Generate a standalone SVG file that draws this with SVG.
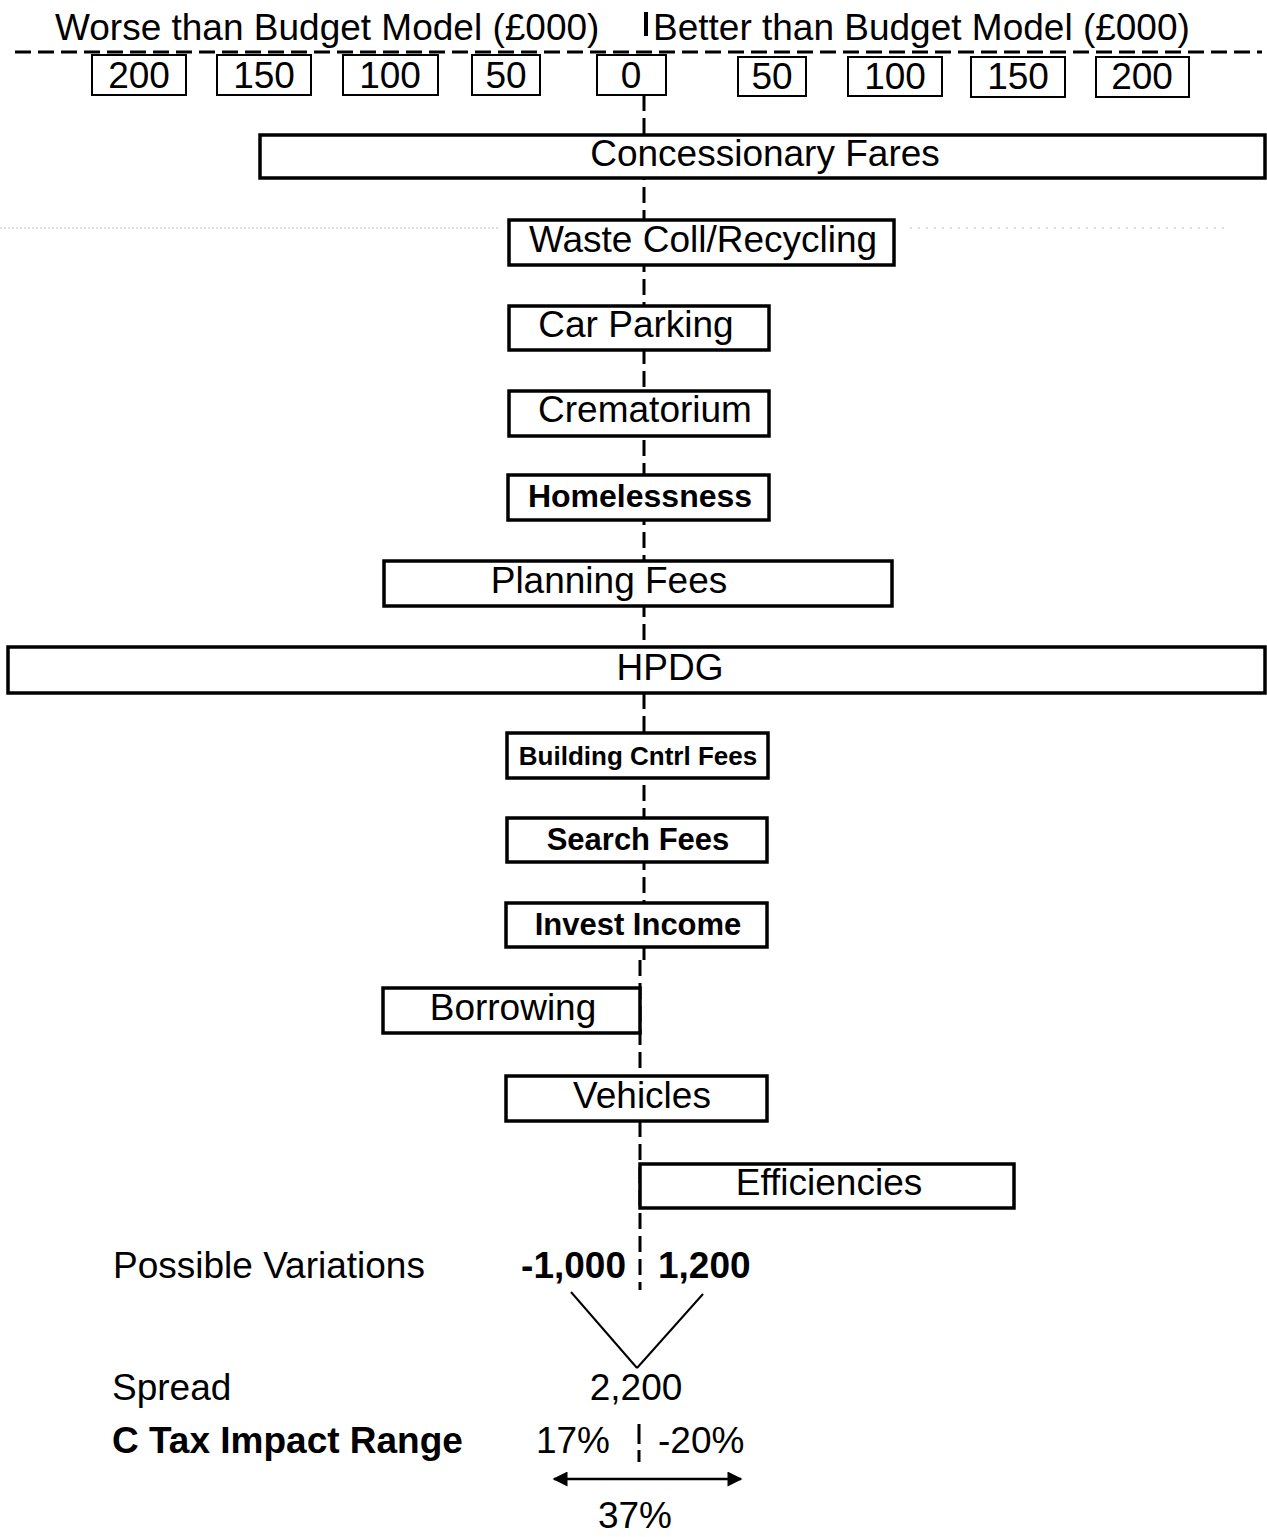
<svg xmlns="http://www.w3.org/2000/svg" width="1267" height="1537" viewBox="0 0 1267 1537">
<style>
text{font-family:"Liberation Sans",Arial,sans-serif;font-size:37px;fill:#000}
.b{font-weight:bold}
.box{fill:#fff;stroke:#000;stroke-width:3.5}
.sbox{fill:#fff;stroke:#000;stroke-width:2}
.c{text-anchor:middle}
.e{text-anchor:end}
.dash{stroke:#000;stroke-width:3;stroke-dasharray:16 7;fill:none}
</style>
<defs>
<marker id="ah" viewBox="0 0 10 10" refX="9" refY="5" markerWidth="8" markerHeight="6" orient="auto-start-reverse" markerUnits="strokeWidth">
<path d="M0,0 L10,5 L0,10 z" fill="#000"/>
</marker>
</defs>
<rect width="1267" height="1537" fill="#fff"/>
<g id="connectors">
<line x1="0" y1="228" x2="500" y2="228" stroke="#bbb" stroke-width="1" stroke-dasharray="2 2"/>
<line x1="910" y1="228" x2="1230" y2="228" stroke="#bbb" stroke-width="1" stroke-dasharray="2 6"/>
<line class="dash" x1="15" y1="52" x2="1262" y2="52"/>
<line x1="646" y1="12" x2="646" y2="36" stroke="#000" stroke-width="4"/>
<line class="dash" x1="644" y1="95" x2="644" y2="960"/>
<line class="dash" x1="640" y1="960" x2="640" y2="1290"/>
<line x1="571" y1="1292" x2="637" y2="1368" stroke="#000" stroke-width="2"/>
<line x1="703" y1="1294" x2="637" y2="1368" stroke="#000" stroke-width="2"/>
<line x1="639" y1="1424" x2="639" y2="1462" stroke="#000" stroke-width="3" stroke-dasharray="20 6"/>
<line x1="554" y1="1479" x2="741" y2="1479" stroke="#000" stroke-width="2.5" marker-start="url(#ah)" marker-end="url(#ah)"/>
</g>
<g id="header">
<text x="55" y="40">Worse than Budget Model (£000)</text>
<text x="653" y="40">Better than Budget Model (£000)</text>
</g>
<g id="scale">
<rect class="sbox" x="92" y="55" width="94" height="40"/><text class="c" x="139" y="88">200</text>
<rect class="sbox" x="217" y="55" width="94" height="40"/><text class="c" x="264" y="88">150</text>
<rect class="sbox" x="343" y="55" width="95" height="40"/><text class="c" x="390" y="88">100</text>
<rect class="sbox" x="472" y="55" width="68" height="40"/><text class="c" x="506" y="88">50</text>
<rect class="sbox" x="597" y="55" width="69" height="40"/><text class="c" x="631" y="88">0</text>
<rect class="sbox" x="738" y="57" width="68" height="39"/><text class="c" x="772" y="89">50</text>
<rect class="sbox" x="848" y="57" width="94" height="39"/><text class="c" x="895" y="89">100</text>
<rect class="sbox" x="971" y="57" width="94" height="40"/><text class="c" x="1018" y="89">150</text>
<rect class="sbox" x="1096" y="57" width="93" height="40"/><text class="c" x="1142" y="89">200</text>
</g>
<g id="concessionary-fares"><rect class="box" x="260" y="135" width="1005" height="43"/><text class="c" x="765" y="166">Concessionary Fares</text></g>
<g id="waste-coll"><rect class="box" x="509" y="220" width="385" height="45"/><text class="c" x="703" y="252">Waste Coll/Recycling</text></g>
<g id="car-parking"><rect class="box" x="509" y="306" width="260" height="44"/><text class="c" x="636" y="337">Car Parking</text></g>
<g id="crematorium"><rect class="box" x="509" y="391" width="260" height="45"/><text class="c" x="645" y="422">Crematorium</text></g>
<g id="homelessness"><rect class="box" x="508" y="475" width="261" height="45"/><text class="c b" x="640" y="507" style="font-size:32px">Homelessness</text></g>
<g id="planning-fees"><rect class="box" x="384" y="561" width="508" height="45"/><text class="c" x="609" y="593">Planning Fees</text></g>
<g id="hpdg"><rect class="box" x="8" y="647" width="1257" height="46"/><text class="c" x="670" y="680">HPDG</text></g>
<g id="building-cntrl-fees"><rect class="box" x="507" y="733" width="261" height="45"/><text class="c b" x="638" y="765" style="font-size:26px">Building Cntrl Fees</text></g>
<g id="search-fees"><rect class="box" x="507" y="818" width="260" height="44"/><text class="c b" x="638" y="850" style="font-size:31px">Search Fees</text></g>
<g id="invest-income"><rect class="box" x="506" y="903" width="261" height="44"/><text class="c b" x="638" y="935" style="font-size:31px">Invest Income</text></g>
<g id="borrowing"><rect class="box" x="383" y="988" width="257" height="45"/><text class="c" x="513" y="1020">Borrowing</text></g>
<g id="vehicles"><rect class="box" x="506" y="1076" width="261" height="45"/><text class="c" x="642" y="1108">Vehicles</text></g>
<g id="efficiencies"><rect class="box" x="640" y="1164" width="374" height="44"/><text class="c" x="829" y="1195">Efficiencies</text></g>
<g id="summary">
<text x="113" y="1278">Possible Variations</text>
<text class="b e" x="626" y="1278">-1,000</text>
<text class="b" x="658" y="1278">1,200</text>
<text x="112" y="1400">Spread</text>
<text class="c" x="636" y="1400">2,200</text>
<text class="b" x="112" y="1453">C Tax Impact Range</text>
<text class="e" x="610" y="1453">17%</text>
<text x="658" y="1453">-20%</text>
<text class="c" x="635" y="1528">37%</text>
</g>
</svg>
